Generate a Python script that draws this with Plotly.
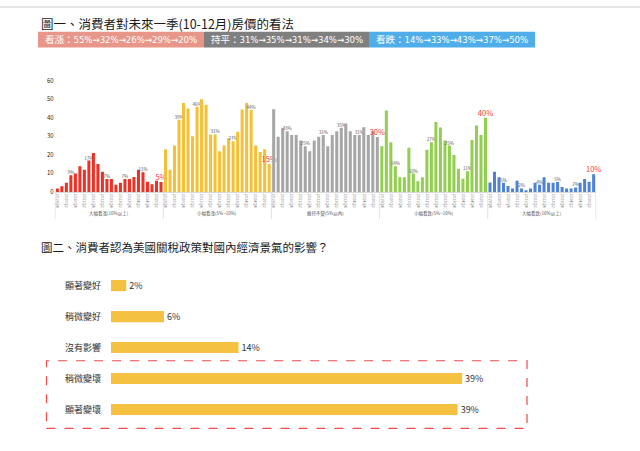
import plotly.graph_objects as go

W, H = 640, 451

# ---------------- data: figure 1 ----------------
groups = ["大幅看漲(10%以上)", "小幅看漲(5%~10%)", "維持不變(5%以內)", "小幅看跌(5%~10%)", "大幅看跌(10%以上)"]
group_colors = ["#EE3124", "#F6C036", "#A6A6A6", "#92CF50", "#4F81D6"]
periods = ["2019Q4", "2020Q1", "2020Q2", "2020Q3", "2020Q4", "2021Q1", "2021Q2", "2021Q3",
           "2021Q4", "2022Q1", "2022Q2", "2022Q3", "2022Q4", "2023Q1", "2023Q2", "2023Q3",
           "2023Q4", "2024Q1", "2024Q2", "2024Q3", "2024Q4", "2025Q1", "2025Q2", "2025Q3"]
big_rise = [1.8, 3.0, 4.9, 9.0, 9.9, 13.9, 12.0, 16.9, 21.0, 15.0, 10.9, 6.9,
            6.9, 3.9, 4.9, 7.0, 7.0, 8.1, 12.0, 10.6, 5.5, 4.1, 6.0, 5.4]
small_rise = [23.0, 12.0, 25.0, 39.0, 48.0, 45.0, 30.0, 46.0, 50.0, 47.0, 31.0, 31.0,
              22.0, 25.0, 29.0, 27.4, 32.5, 44.5, 48.0, 44.2, 25.0, 21.5, 23.0, 15.0]
flat = [44.6, 29.8, 34.6, 32.8, 30.7, 30.7, 27.7, 24.7, 21.9, 27.7, 29.8, 30.7,
        24.7, 30.7, 32.8, 34.6, 36.9, 32.8, 30.7, 30.7, 34.9, 30.7, 32.8, 29.6]
small_fall = [24.7, 43.9, 26.8, 13.9, 7.9, 7.9, 23.8, 9.9, 5.8, 7.9, 22.8, 26.8,
              37.7, 34.7, 27.7, 25.0, 19.9, 12.5, 7.1, 11.1, 28.0, 35.8, 30.7, 40.0]
big_fall = [5.1, 10.9, 7.9, 4.9, 3.2, 1.9, 6.0, 1.9, 0.9, 1.8, 4.9, 3.9,
            7.9, 4.9, 4.9, 5.3, 2.6, 1.9, 1.9, 2.4, 4.9, 6.9, 5.5, 9.5]
series = [big_rise, small_rise, flat, small_fall, big_fall]

title1 = "圖一、消費者對未來一季(10-12月)房價的看法"
banner_texts = ["看漲：55%→32%→26%→29%→20%", "持平：31%→35%→31%→34%→30%", "看跌：14%→33%→43%→37%→50%"]
banner_colors = ["#E8968A", "#7F7F7F", "#4FAEEA"]

# ---------------- data: figure 2 ----------------
title2 = "圖二、消費者認為美國關稅政策對國內經濟景氣的影響？"
impact_cats = ["顯著變好", "稍微變好", "沒有影響", "稍微變壞", "顯著變壞"]
impact_vals = [1.7, 5.9, 14.2, 39.1, 38.6]

FONT = "Noto Sans CJK TC"
BANNER_FONT = "DejaVu Sans Condensed, Noto Sans CJK TC"

def px_x(p):
    return p / W

def px_y(p):
    return 1 - p / H

fig = go.Figure()

# ---------- top chart ----------
n = len(periods)
for gi, (g, vals, col) in enumerate(zip(groups, series, group_colors)):
    cats = [f"{g}|{p}" for p in periods]
    texts, sizes, colors = [], [], []
    for i, v in enumerate(vals):
        if i == n - 1:
            texts.append(f"{round(v)}%"); sizes.append(7.5); colors.append("#F2403A")
        elif (i + 1) % 4 == 0:
            texts.append(f"{round(v)}%"); sizes.append(4.5); colors.append("#595959")
        else:
            texts.append(""); sizes.append(4.5); colors.append("#595959")
    fig.add_trace(go.Bar(
        x=cats, y=vals, marker=dict(color=col, line=dict(width=0)),
        text=texts, textposition="outside", cliponaxis=False,
        textfont=dict(size=sizes, color=colors, family=FONT),
        constraintext="none", xaxis="x", yaxis="y", showlegend=False,
        hoverinfo="skip"))

all_cats = [f"{g}|{p}" for g in groups for p in periods]
tickvals = [c for k, c in enumerate(all_cats) if (k % n) % 2 == 0]
ticktext = [c.split("|")[1] for c in tickvals]

top_y0, top_y1 = 190.7, 77.3
fig.update_layout(
    xaxis=dict(domain=[px_x(54.7), px_x(596.3)], type="category",
               categoryorder="array", categoryarray=all_cats,
               tickvals=tickvals, ticktext=ticktext, tickangle=90,
               tickfont=dict(size=4, color="#7F7F7F", family=FONT),
               showline=True, linecolor="#D9D9D9", linewidth=0.8,
               ticks="", showgrid=False, anchor="y", fixedrange=True),
    yaxis=dict(domain=[px_y(top_y0), px_y(top_y1)], range=[0, 60],
               tickvals=[0, 10, 20, 30, 40, 50, 60], ticksuffix="%",
               tickfont=dict(size=6, color="#262626", family=FONT),
               showgrid=False, zeroline=False, showline=False, ticks="",
               anchor="x", fixedrange=True),
    bargap=0.33,
)

shapes = []
annotations = []
# group separators and group labels
for gi in range(len(groups) + 1):
    shapes.append(dict(type="line", xref="x", yref="paper",
                       x0=gi * n - 0.5, x1=gi * n - 0.5,
                       y0=px_y(top_y0), y1=px_y(218.5),
                       line=dict(color="#D9D9D9", width=0.8)))
for gi, g in enumerate(groups):
    annotations.append(dict(xref="x", yref="paper", x=gi * n + (n - 1) / 2, y=px_y(213),
                            text=g, showarrow=False, yanchor="middle",
                            font=dict(size=4.5, color="#595959", family=FONT)))

# titles
annotations.append(dict(xref="paper", yref="paper", x=px_x(39), y=px_y(18.5), text=title1,
                        showarrow=False, xanchor="left", yanchor="middle",
                        font=dict(size=12.5, color="#1a1a1a", family=FONT)))
annotations.append(dict(xref="paper", yref="paper", x=px_x(39), y=px_y(247), text=title2,
                        showarrow=False, xanchor="left", yanchor="middle",
                        font=dict(size=11.5, color="#1a1a1a", family=FONT)))

# banner
bx = [38, 204, 369, 535]
for k, (t, c) in enumerate(zip(banner_texts, banner_colors)):
    shapes.append(dict(type="rect", xref="paper", yref="paper",
                       x0=px_x(bx[k]), x1=px_x(bx[k + 1]), y0=px_y(43.3), y1=px_y(27.3),
                       fillcolor=c, line=dict(width=0), layer="below"))
    annotations.append(dict(xref="paper", yref="paper", x=px_x((bx[k] + bx[k + 1]) / 2),
                            y=px_y(35.3), text=t, showarrow=False,
                            xanchor="center", yanchor="middle",
                            font=dict(size=9.5, color="white", family=BANNER_FONT)))

# top page border line
shapes.append(dict(type="line", xref="paper", yref="paper", x0=0, x1=1,
                   y0=px_y(2), y1=px_y(2), line=dict(color="#E6E6E6", width=2)))

# ---------- bottom chart ----------
fig.add_trace(go.Bar(
    y=impact_cats, x=impact_vals, orientation="h", xaxis="x2", yaxis="y2",
    marker=dict(color="#F4C141", line=dict(width=0)),
    text=[f"{round(v)}%" for v in impact_vals], textposition="outside",
    textfont=dict(size=9, color="#333333", family=FONT), cliponaxis=False,
    constraintext="none", showlegend=False, hoverinfo="skip", width=0.36))

bar_left = 111
scale = 8.98  # px per percent
x_right = 576
fig.update_layout(
    xaxis2=dict(domain=[px_x(bar_left), px_x(x_right)],
                range=[0, (x_right - bar_left) / scale], visible=False,
                anchor="y2", fixedrange=True),
    yaxis2=dict(domain=[px_y(428.5), px_y(270.5)], type="category",
                categoryorder="array", categoryarray=impact_cats,
                autorange="reversed", anchor="x2", showline=False, showgrid=False,
                zeroline=False, ticks="", ticklabelstandoff=9,
                tickfont=dict(size=9, color="#333333", family=FONT), fixedrange=True),
)

# dashed highlight box
shapes.append(dict(type="rect", xref="paper", yref="paper",
                   x0=px_x(46.5), x1=px_x(527), y0=px_y(432), y1=px_y(363),
                   line=dict(color="#F04A4A", width=1.2, dash="dash"),
                   fillcolor="rgba(0,0,0,0)"))

fig.update_layout(
    width=W, height=H, margin=dict(l=0, r=0, t=0, b=0),
    paper_bgcolor="white", plot_bgcolor="white",
    shapes=shapes, annotations=annotations,
    font=dict(family=FONT),
)

fig.write_html("out.html", config={"displayModeBar": False},
               post_script="document.body.style.margin='0';document.body.style.padding='0';document.body.style.overflow='hidden';")
